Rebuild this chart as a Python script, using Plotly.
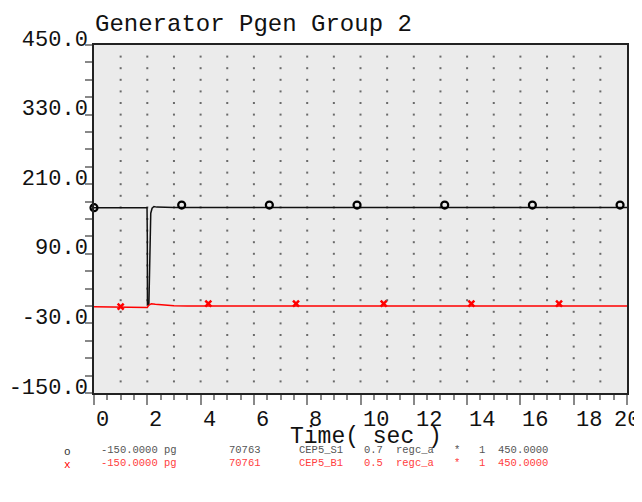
import numpy as np
import plotly.graph_objects as go

# ---- data ----
time_black = [0, 1.99, 2.0, 2.005, 2.06, 2.10, 2.13, 2.18, 2.25, 2.35, 2.6, 3.0, 20]
pgen_black = [169.5, 169.5, 120, 2, 3, 100, 160, 168.5, 171.5, 170.5, 170, 169.8, 169.8]

time_red = [0, 1.98, 2.0, 2.05, 2.15, 2.3, 2.6, 3.0, 3.5, 20]
pgen_red = [-1.5, -1.5, -2.5, 1, 4, 3, 1.5, 0.5, 0.2, 0.2]

mark_t_black = [0, 3.29, 6.58, 9.87, 13.16, 16.45, 19.74]
mark_v_black = [169.5, 174, 174, 174, 174, 174, 174]
mark_t_red = [1.0, 4.29, 7.58, 10.87, 14.16, 17.45]
mark_v_red = [-1.2, 4.3, 4.3, 4.3, 4.3, 4.3]

x_tick_vals = [0, 2, 4, 6, 8, 10, 12, 14, 16, 18, 20]
x_tick_text = ["0", "2", "4", "6", "8", "10", "12", "14", "16", "18", "20"]
y_tick_vals = [-150, -30, 90, 210, 330, 450]
y_tick_text = ["-150.0", "-30.0", "90.0", "210.0", "330.0", "450.0"]

legend_black = ["-150.0000 pg", "70763", "CEP5_S1", "0.7", "regc_a", "*", "1", "450.0000"]
legend_red = ["-150.0000 pg", "70761", "CEP5_B1", "0.5", "regc_a", "*", "1", "450.0000"]

title_text = "Generator Pgen Group 2"
x_title = "Time( sec )"

# ---- layout constants (page has an 8px body margin) ----
OFF = 8
W, H = 642 - OFF, 502 - OFF
L, R, T, B = 94 - OFF, 15, 45 - OFF, 109
PW, PH = W - L - R, H - T - B
FONT = "Liberation Mono"
RED = "#ff0000"


def px(xr):
    return (xr - OFF - L) / PW


def py(yr):
    return 1 - (yr - OFF - T) / PH


fig = go.Figure()

# dot grid
gx, gy = np.meshgrid(np.arange(1, 20, 1), np.arange(-130, 450, 20))
fig.add_trace(go.Scatter(x=gx.ravel(), y=gy.ravel(), mode="markers",
                         marker=dict(symbol="square", size=2, color="#6a6a6a", line=dict(width=0)),
                         hoverinfo="skip", showlegend=False))

fig.add_trace(go.Scatter(x=time_black, y=pgen_black, mode="lines",
                         line=dict(color="#111111", width=1.5), showlegend=False))
fig.add_trace(go.Scatter(x=time_red, y=pgen_red, mode="lines",
                         line=dict(color=RED, width=1.5), showlegend=False))
fig.add_trace(go.Scatter(x=mark_t_black, y=mark_v_black, mode="markers", cliponaxis=False,
                         marker=dict(symbol="circle-open", size=7, color="#000000", line=dict(width=2.2)),
                         showlegend=False))
fig.add_trace(go.Scatter(x=mark_t_red, y=mark_v_red, mode="markers", cliponaxis=False,
                         marker=dict(symbol="x-thin", size=6, color=RED, line=dict(width=2.5, color=RED)),
                         showlegend=False))

fig.update_xaxes(range=[0, 20], showgrid=False, zeroline=False,
                 showline=True, mirror=True, linecolor="#222222", linewidth=1.5,
                 tickmode="array", tickvals=x_tick_vals, ticktext=x_tick_text,
                 showticklabels=False,
                 ticks="outside", ticklen=10, tickcolor="#888888", tickwidth=1.5,
                 minor=dict(dtick=0.5, tick0=0, ticks="outside", ticklen=5, tickcolor="#888888", tickwidth=1.5))
fig.update_yaxes(range=[-150, 450], showgrid=False, zeroline=False,
                 showline=True, mirror=True, linecolor="#222222", linewidth=1.5,
                 tickmode="array", tickvals=y_tick_vals, ticktext=y_tick_text,
                 ticklabelposition="outside top", ticklabelshift=9, ticklabelstandoff=0,
                 tickfont=dict(family=FONT, size=22, color="#111111"),
                 ticks="outside", ticklen=7, tickcolor="#888888", tickwidth=1.5,
                 minor=dict(dtick=30, tick0=-150, ticks="outside", ticklen=7, tickcolor="#888888", tickwidth=1.5))

ann = []
# x tick labels (left-aligned at tick, last one centred)
for v, t in zip(x_tick_vals, x_tick_text):
    last = v == x_tick_vals[-1]
    ann.append(dict(x=v, y=0, yshift=-27, xref="x", yref="paper", text=t, showarrow=False,
                    xanchor="center" if last else "left", yanchor="middle",
                    font=dict(family=FONT, size=22, color="#111111")))

ann.append(dict(x=px(366), y=0, yshift=-44, xref="paper", yref="paper",
                text=x_title, showarrow=False, xanchor="center", yanchor="middle",
                font=dict(family=FONT, size=23, color="#111111")))

# legend lines
cols = [100, 228, 298, 363, 395, 453, 478, 497]
for vals, color, ypix in [(legend_black, "#555555", 450), (legend_red, "#ff4040", 462.5)]:
    for cx, t in zip(cols, vals):
        ann.append(dict(x=px(cx), y=py(ypix), xref="paper", yref="paper", text=t, showarrow=False,
                        xanchor="left", yanchor="middle", borderpad=0,
                        font=dict(family=FONT, size=10.5, color=color)))
ann.append(dict(x=px(67), y=py(452), xref="paper", yref="paper",
                text="o", showarrow=False, xanchor="center", yanchor="middle", borderpad=0,
                font=dict(family=FONT, size=11, color="#333333")))
ann.append(dict(x=px(67), y=py(464.5), xref="paper", yref="paper",
                text="x", showarrow=False, xanchor="center", yanchor="middle", borderpad=0,
                font=dict(family=FONT, size=11, color=RED)))

fig.update_layout(
    width=W, height=H,
    margin=dict(l=L, r=R, t=T, b=B, autoexpand=False),
    paper_bgcolor="#ffffff", plot_bgcolor="#ebebeb",
    title=dict(text=title_text, x=(95 - OFF) / W, xanchor="left", xref="container",
               y=1 - (23 - OFF) / H, yanchor="middle", yref="container",
               font=dict(family=FONT, size=24, color="#111111")),
    annotations=ann,
    showlegend=False,
)

fig.write_html("out.html")
